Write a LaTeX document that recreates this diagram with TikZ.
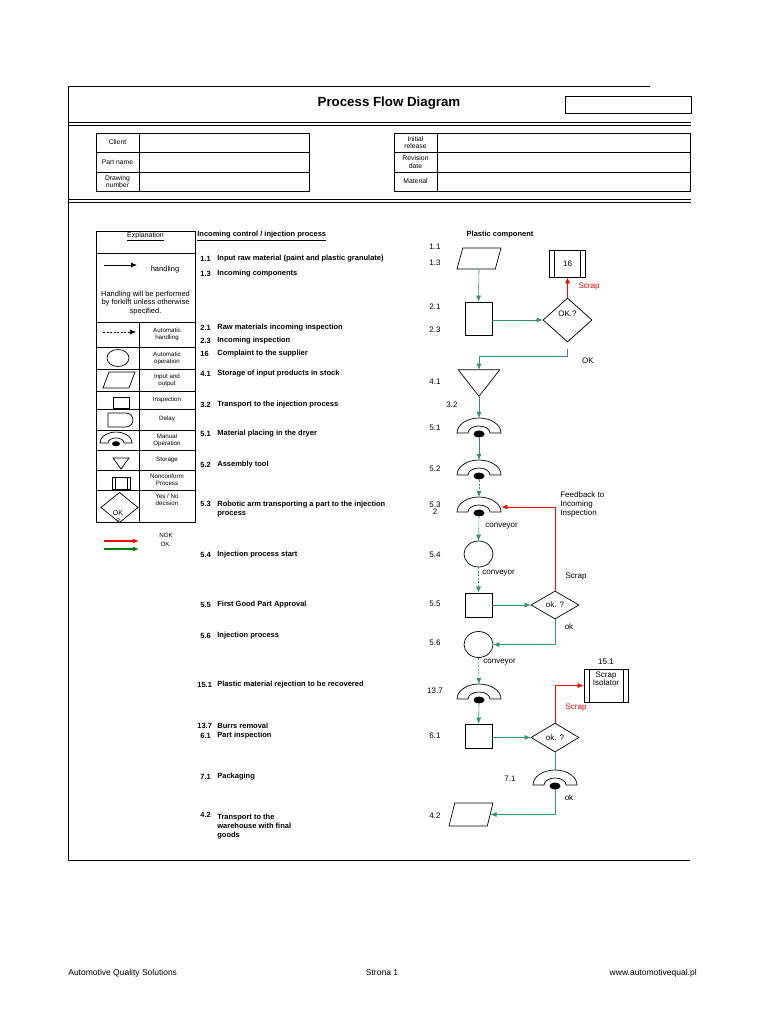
\documentclass[tikz,border=0pt]{standalone}
\usepackage{fontspec}
\setmainfont{Liberation Sans}
\usetikzlibrary{shapes.geometric,arrows.meta}

\definecolor{flowgreen}{RGB}{46,150,100}
\definecolor{okgreen}{RGB}{0,128,0}

\tikzset{
  manualop/.pic={
    \draw[fill=white] (-22,0) arc[start angle=180,end angle=0,x radius=22,y radius=15]
      -- (11,0) arc[start angle=0,end angle=180,x radius=11,y radius=7] -- cycle;
    \fill (0,-1) ellipse[x radius=5.5,y radius=3.5];
  }
}

\begin{document}
\begin{tikzpicture}[x=1pt, y=1pt, >={Latex[length=6pt,width=5pt]}, line width=0.7pt,
    flow line/.style={draw=flowgreen, line width=0.6pt, ->},
    belt line/.style={flow line, dash pattern=on 2pt off 1.5pt},
    scrap line/.style={draw=red, line width=0.7pt, ->},
    insp node/.style={draw, rectangle, minimum width=27pt},
    dec node/.style={draw, diamond, minimum width=48pt, minimum height=28pt, font=\fontsize{8}{9}\selectfont},
    op node/.style={draw, ellipse, minimum width=29pt, minimum height=26pt},
    io node/.style={draw, trapezium, trapezium left angle=80, trapezium right angle=100,
      trapezium stretches=true, inner sep=2pt, minimum width=44pt, minimum height=21pt},
    nc node/.style={draw, rectangle, font=\fontsize{8}{9}\selectfont, path picture={
      \draw ([xshift=5pt]path picture bounding box.north west) -- ([xshift=5pt]path picture bounding box.south west)
            ([xshift=-5pt]path picture bounding box.north east) -- ([xshift=-5pt]path picture bounding box.south east);}},
    arch node/.style={minimum width=44pt, minimum height=19.5pt},
    stepno/.style={font=\bfseries\fontsize{7.5}{9}\selectfont, anchor=west},
    steptext/.style={font=\bfseries\fontsize{7.5}{9}\selectfont, anchor=west},
    flow label/.style={font=\fontsize{8}{9}\selectfont},
    key label/.style={font=\fontsize{6.2}{7}\selectfont, align=center},
    tbl label/.style={font=\fontsize{6.8}{7.6}\selectfont, align=center}]
  \tikzstyle{every node}=[font=\fontsize{7.5}{9}\selectfont, inner sep=0pt]
  \useasboundingbox (0,0) rectangle (768,-1024);

  % page frame and header
  \draw (68,-86) -- (650,-86);
  \draw (68,-86) -- (68,-860);
  \node[font=\bfseries\fontsize{13.3}{15}\selectfont] (title) at (389,-103) {Process Flow Diagram};
  \node[draw, minimum width=126pt, minimum height=17pt, anchor=north west] (titlebox) at (565,-96) {};
  \foreach \y in {122,125,199,202} \draw[line width=0.9pt] (68,-\y) -- (691,-\y);
  \draw[line width=0.9pt] (68,-860) -- (690,-860);

  % client tables
  \draw (96,-133) rectangle (309,-191);
  \draw (139,-133) -- (139,-191) (96,-152) -- (309,-152) (96,-172) -- (309,-172);
  \draw (394,-133) rectangle (690,-191);
  \draw (437,-133) -- (437,-191) (394,-152) -- (690,-152) (394,-172) -- (690,-172);
  \node[tbl label] (client) at (117.5,-142.5) {Client};
  \node[tbl label] (partname) at (117.5,-162) {Part name};
  \node[tbl label] (drawno) at (117.5,-181.5) {Drawing\\number};
  \node[tbl label] (initrel) at (415.5,-142.5) {Initial\\release};
  \node[tbl label] (revdate) at (415.5,-162) {Revision\\date};
  \node[tbl label] (material) at (415.5,-181.5) {Material};

  % explanation table
  \draw (96,-231) rectangle (195,-522);
  \foreach \y in {253,322,347,369,391,409,430,450,470,490} \draw (96,-\y) -- (195,-\y);
  \draw (139,-322) -- (139,-522);
  \node[font=\fontsize{7}{8}\selectfont] (expl) at (145.5,-236.5) {\underline{Explanation}};
  \draw[->, line width=0.8pt] (104,-265) -- (137,-265);
  \node (handling) at (165,-270) {handling};
  \node[align=center, font=\fontsize{7.5}{8.2}\selectfont] (forklift) at (145.5,-303)
    {Handling will be performed\\by forkilft unless otherwise\\specified.};
  \draw[->, dash pattern=on 2pt off 1.5pt] (103,-332) -- (136,-332);
  \draw (118,-358) ellipse[x radius=11, y radius=8.5];
  \draw (103,-388) -- (129,-388) -- (135,-372) -- (109,-372) -- cycle;
  \draw (113,-397) rectangle (129,-408);
  \draw (108,-413) -- (126,-413) arc[start angle=90,end angle=-90,radius=7] -- (108,-427) -- cycle;
  \pic[scale=0.73] at (116,-443) {manualop};
  \draw (113,-458) -- (129,-458) -- (121,-469) -- cycle;
  \draw (112,-477) rectangle (130,-489) (115,-477) -- (115,-489) (127,-477) -- (127,-489);
  \draw (101,-507.5) -- (119.5,-492.5) -- (138,-507.5) -- (119.5,-522.5) -- cycle;
  \node[font=\fontsize{7}{7.5}\selectfont, align=center] (okq) at (118,-517) {OK\\?};
  \foreach \t/\y [count=\i] in {{Automatic\\handling}/334.5, {Automatic\\operation}/358,
      {Input and\\output}/380, Inspection/399.5, Delay/419, {Manual\\Operation}/440,
      Storage/460, {Nonconform\\Process}/480, {Yes / No\\decision}/500}
    \node[key label] (key\i) at (167,-\y) {\t};
  \draw[red, line width=1.2pt, ->] (104,-541) -- (139,-541);
  \draw[okgreen, line width=1.2pt, ->] (104,-549) -- (139,-549);
  \node[key label] (nok) at (166,-535.5) {NOK};
  \node[key label] (okdot) at (166,-544.5) {OK.};

  % process steps
  \node[steptext] (inctitle) at (197,-236) {\underline{Incoming control / injection process}};
  \foreach \x/\n/\t/\y [count=\i] in {
      200/1.1/Input raw material (paint and plastic granulate)/259,
      200/1.3/Incoming components/274,
      200/2.1/Raw materials incoming inspection/328,
      200/2.3/Incoming inspection/341,
      200/16/Complaint to the supplier/354,
      200/4.1/Storage of input products in stock/374,
      200/3.2/Transport to the injection process/405,
      200/5.1/Material placing in the dryer/434,
      200/5.2/Assembly tool/465,
      200/5.4/Injection process start/555,
      200/5.5/First Good Part Approval/605,
      200/5.6/Injection process/636,
      197/15.1/Plastic material rejection to be recovered/685,
      197/13.7/Burrs removal/726,
      200/6.1/Part inspection/736,
      200/7.1/Packaging/777}
    {\node[stepno] (no\i) at (\x,-\y) {\n};
     \node[steptext] (st\i) at (217,-\y) {\t};}
  \node[stepno, anchor=north west] (no53) at (200,-501) {5.3};
  \node[steptext, anchor=north west, align=left] (st53) at (217,-501)
    {Robotic arm transporting a part to the injection\\process};
  \node[stepno, anchor=north west] (no42) at (200,-812) {4.2};
  \node[steptext, anchor=north west, align=left] (st42) at (217,-814)
    {Transport to the\\warehouse with final\\goods};

  % flow chart
  \node[font=\bfseries\fontsize{7.5}{9}\selectfont] (plastic) at (500,-235) {Plastic component};
  \foreach \t/\y [count=\i] in {1.1/247, 1.3/263, 2.1/307, 2.3/330, 4.1/382, 5.1/428, 5.2/469,
      5.3/505, 2/512, 5.4/555, 5.5/604, 5.6/643, 13.7/691, 6.1/736, 4.2/816}
    \node[flow label] (lbl\i) at (435,-\y) {\t};
  \node[flow label] (lbl32) at (452,-405) {3.2};

  \node[io node] (in11) at (479,-258.5) {};
  \node[nc node, minimum width=36pt, minimum height=27pt] (nc16) at (567.5,-263.5) {16};
  \node[insp node, minimum height=33pt] (insp21) at (478.5,-318.5) {};
  \node[dec node, minimum width=49pt, minimum height=44pt, text depth=12pt] (dec21) at (567.5,-320) {OK.?};
  \node[minimum width=41pt, minimum height=26pt] (st41) at (479,-383) {};
  \draw (st41.north west) -- (st41.north east) -- (st41.south) -- cycle;
  \foreach \n/\x/\y in {m51/479/433, m52/479/475, m53/479/512, m137/479/699, m71/555/785} {
    \node[arch node] (\n) at (\x,-\y+5) {};
    \pic at (\x,-\y) {manualop};
  }
  \node[op node] (c54) at (478.5,-554) {};
  \node[insp node, minimum height=24pt] (r55) at (478.5,-605) {};
  \node[dec node] (dec55) at (555,-605) {ok. ?};
  \node[op node] (c56) at (478.5,-644.5) {};
  \node[insp node, minimum height=24pt] (r61) at (478.5,-736) {};
  \node[dec node, minimum height=29pt] (dec61) at (555,-737.5) {ok. ?};
  \node[nc node, minimum width=44pt, minimum height=33pt] (iso) at (606,-685.5) {};
  \node[io node, minimum height=23pt] (out42) at (471,-814.5) {};

  \node[flow label, red] (scrap1) at (589,-287) {Scrap};
  \node[flow label] (ok1) at (588,-361) {OK};
  \node[flow label, anchor=west] (belt1) at (485,-526) {conveyor};
  \node[flow label, anchor=west] (belt2) at (482,-573) {conveyor};
  \node[flow label, anchor=west] (belt3) at (483,-662) {conveyor};
  \node[flow label, anchor=north west, align=left] (feedback) at (560,-491.5) {Feedback to\\Incoming\\Inspection};
  \node[flow label] (scrap2) at (576,-577) {Scrap};
  \node[flow label] (ok2) at (569,-627) {ok};
  \node[flow label] (lbl151) at (606,-662) {15.1};
  \node[flow label, align=center, font=\fontsize{8}{8}\selectfont] (isotext) at (606,-679) {Scrap\\Isolator};
  \node[flow label, red] (scrap3) at (576,-708) {Scrap};
  \node[flow label] (lbl71) at (510,-779) {7.1};
  \node[flow label] (ok3) at (569,-798) {ok};

  \path (in11.south) edge[flow line] (insp21.north)
    (insp21.east |- dec21.west) edge[flow line] (dec21.west)
    (st41.south) edge[flow line] (m51.north)
    (m51.south) edge[flow line] (m52.north)
    (r55.east) edge[flow line] (dec55.west)
    (m137.south) edge[flow line] (r61.north)
    (r61.east |- dec61.west) edge[flow line] (dec61.west);
  \path (m52.south) edge[belt line] (m53.north)
    (m53.south) edge[belt line] (c54.north)
    (c54.south) edge[belt line] (r55.north)
    (c56.south) edge[belt line] (m137.north);
  \draw[flow line, shorten <=7pt] (dec21.south) -- ++(0,-14) -| (st41.north);
  \draw[flow line] (dec55.south) |- (c56.east);
  \draw[flow line, -] (dec61.south) -- (m71.north);
  \draw[flow line] (m71.south) |- (out42.east);
  \draw[scrap line] (dec21.north) -- (nc16.south);
  \draw[scrap line] (dec55.north) |- (m53.east);
  \draw[scrap line] (dec61.north) |- (iso.west);

  % footer
  \node[font=\fontsize{8.5}{10}\selectfont, anchor=west] (company) at (68,-973) {Automotive Quality Solutions};
  \node[font=\fontsize{8.5}{10}\selectfont] (page) at (382,-973) {Strona 1};
  \node[font=\fontsize{8.5}{10}\selectfont, anchor=east] (web) at (697,-973) {www.automotivequal.pl};
\end{tikzpicture}
\end{document}
